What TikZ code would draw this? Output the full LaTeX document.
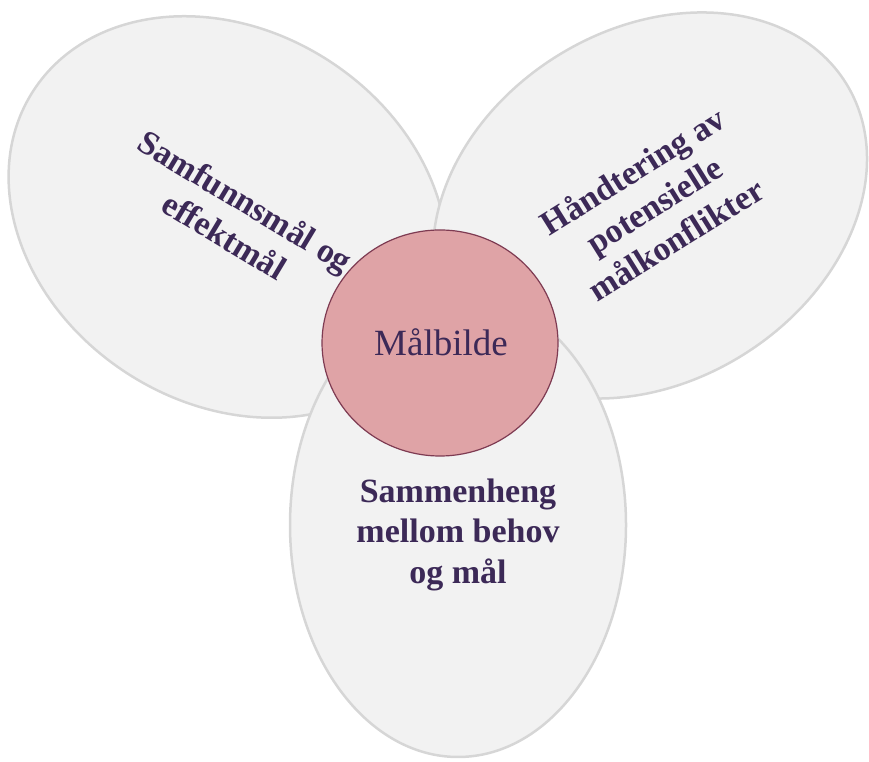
\documentclass[tikz,border=0pt]{standalone}
\usepackage{fontspec}
\setmainfont{Liberation Serif}
\usetikzlibrary{shapes.geometric}
\definecolor{petalfill}{HTML}{F2F2F2}
\definecolor{petaledge}{HTML}{D6D6D6}
\definecolor{hubfill}{HTML}{DFA3A6}
\definecolor{hubedge}{HTML}{7E3B52}
\definecolor{labelink}{HTML}{3C2957}
\begin{document}
\begin{tikzpicture}[x=1pt,y=1pt,
  petal/.style={draw=petaledge, fill=petalfill, line width=2.5pt},
  hub/.style={draw=hubedge, fill=hubfill, line width=1.2pt},
  petaltext/.style={text=labelink, font=\fontsize{34}{40.5}\selectfont\bfseries, align=center, inner sep=0pt},
  hubtext/.style={text=labelink, font=\fontsize{37}{44}\selectfont, inner sep=0pt}]
  \useasboundingbox (0,0) rectangle (869,762);
  % three petals, back to front
  \draw[petal, rotate around={-33:(228,545)}] (228,545) ellipse [x radius=232, y radius=186];
  \draw[petal, rotate around={32:(650,556.5)}] (650,556.5) ellipse [x radius=231, y radius=176];
  \draw[petal] (458,237) ellipse [x radius=168, y radius=232];
  % central goal picture
  \node[hub, ellipse, minimum width=236pt, minimum height=226pt, inner sep=0pt] (hub) at (440,419) {};
  \node[hubtext, anchor=base] (hublabel) at (441,406) {Målbilde};
  % petal labels
  \node[petaltext, rotate=-31] (left) at (235,544) {Samfunnsmål og\\effektmål};
  \node[petaltext, rotate=32] (right) at (654,557) {Håndtering av\\potensielle\\målkonflikter};
  \node[petaltext] (bottom) at (458,227.5) {Sammenheng\\mellom behov\\og mål};
\end{tikzpicture}
\end{document}
